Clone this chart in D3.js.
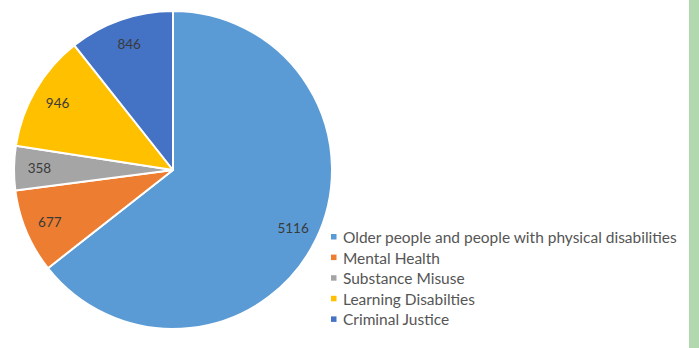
<!DOCTYPE html>
<html>
<head>
<meta charset="utf-8">
<script src="https://cdn.jsdelivr.net/npm/d3@7/dist/d3.min.js"></script>
<style>
  html, body { margin: 0; padding: 0; background: #ffffff; }
  svg { display: block; }
</style>
</head>
<body>
<svg id="chart" width="699" height="348"></svg>
<script>
// Service groups and client counts, clockwise from 12 o'clock
const categories = [
  "Older people and people with physical disabilities",
  "Mental Health",
  "Substance Misuse",
  "Learning Disabilties",
  "Criminal Justice"
];
const values = [5116, 677, 358, 946, 846];
const colors = ["#5b9bd5", "#ed7d31", "#a5a5a5", "#ffc000", "#4472c4"];

const W = 699, H = 348;
const cx = 173, cy = 170, R = 159;

const svg = d3.select("#chart");

// green side band
svg.append("rect")
  .attr("x", 689).attr("y", 0)
  .attr("width", W - 689).attr("height", H)
  .attr("fill", "#b1d8ae");

const data = categories.map((c, i) => ({ name: c, value: values[i], color: colors[i] }));

const pie = d3.pie().value(d => d.value).sort(null);
const arcs = pie(data);

const arc = d3.arc().innerRadius(0).outerRadius(R);
const labelArc = d3.arc().innerRadius(R * 0.84).outerRadius(R * 0.84);

const g = svg.append("g").attr("transform", `translate(${cx},${cy})`);

g.selectAll("path.slice")
  .data(arcs)
  .join("path")
  .attr("class", "slice")
  .attr("d", arc)
  .attr("fill", d => d.data.color)
  .attr("stroke", "#ffffff")
  .attr("stroke-width", 2)
  .attr("stroke-linejoin", "round");

g.selectAll("text.val")
  .data(arcs)
  .join("text")
  .attr("class", "val")
  .attr("transform", d => `translate(${labelArc.centroid(d)})`)
  .attr("text-anchor", "middle")
  .attr("dominant-baseline", "central")
  .attr("font-family", "Lato, 'Open Sans', sans-serif")
  .attr("font-size", 13.5)
  .attr("fill", "#3a3a3a")
  .text(d => d.data.value);

// legend
const legend = svg.append("g").attr("transform", "translate(331,237)");
const rowH = 20.6;
const rows = legend.selectAll("g.row")
  .data(data)
  .join("g")
  .attr("class", "row")
  .attr("transform", (d, i) => `translate(0,${i * rowH})`);

rows.append("rect")
  .attr("x", 0).attr("y", -3)
  .attr("width", 5.5).attr("height", 5.5)
  .attr("fill", d => d.color);

const texts = rows.append("text")
  .attr("x", 12)
  .attr("y", 0)
  .attr("dominant-baseline", "central")
  .attr("font-family", "Lato, 'Open Sans', sans-serif")
  .attr("font-size", 14)
  .attr("fill", "#555555")
  .text(d => d.name);

// size the legend font so the longest entry spans the space to the band
const longest = d3.max(texts.nodes(), n => n.getComputedTextLength());
const fs = 14 * 334 / longest;
texts.attr("font-size", fs);
</script>
</body>
</html>
